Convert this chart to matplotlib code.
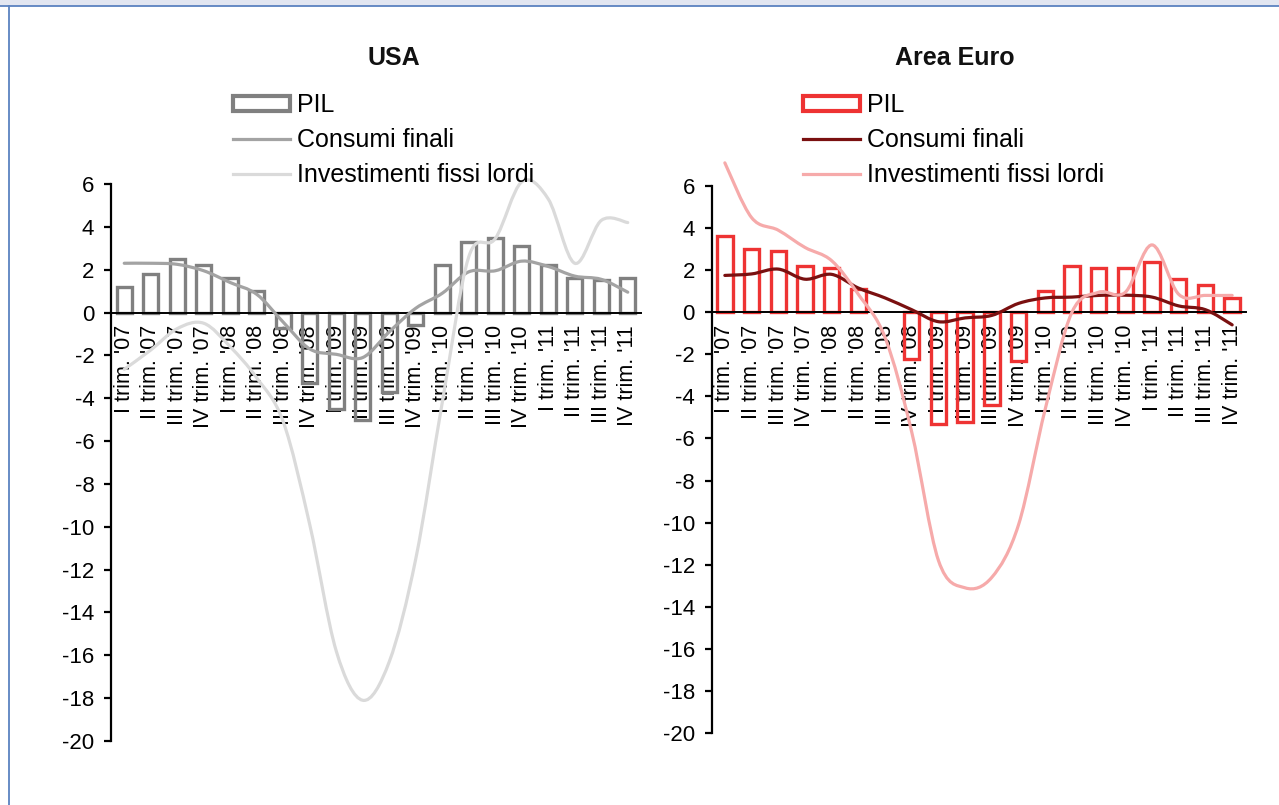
import matplotlib
matplotlib.use("Agg")
import matplotlib.pyplot as plt
import numpy as np
from matplotlib.path import Path
from matplotlib.patches import PathPatch, Rectangle, Patch
from matplotlib.lines import Line2D

plt.rcParams["font.family"] = ["Liberation Sans", "DejaVu Sans"]
plt.rcParams["axes.unicode_minus"] = False

# Quarterly labels, 2007-2011
categories = ["I trim. '07", "II trim. '07", "III trim. '07", "IV trim. '07",
              "I trim. '08", "II trim. '08", "III trim. '08", "IV trim. '08",
              "I trim. '09", "II trim. '09", "III trim. '09", "IV trim. '09",
              "I trim. '10", "II trim. '10", "III trim. '10", "IV trim. '10",
              "I trim. '11", "II trim. '11", "III trim. '11", "IV trim. '11"]

# USA (var. % tendenziali)
usa_pil = [1.2, 1.8, 2.5, 2.2, 1.6, 1.0, -0.7, -3.3, -4.5, -5.0,
           -3.7, -0.6, 2.2, 3.3, 3.5, 3.1, 2.2, 1.6, 1.5, 1.6]
usa_cons = [2.3, 2.3, 2.25, 1.95, 1.4, 0.85, -0.45, -1.7, -1.95, -2.1,
            -0.9, 0.2, 0.9, 1.9, 1.95, 2.4, 2.15, 1.7, 1.55, 0.95]
usa_inv = [-2.65, -1.75, -0.75, -0.5, -1.6, -3.05, -5.1, -9.9, -15.8, -18.1,
           -16.3, -11.5, -4.2, 2.6, 3.45, 6.1, 5.3, 2.3, 4.3, 4.2]

# Area Euro
euro_pil = [3.6, 3.0, 2.9, 2.2, 2.1, 1.1, 0.0, -2.2, -5.3, -5.2,
            -4.4, -2.3, 1.0, 2.2, 2.1, 2.1, 2.4, 1.6, 1.3, 0.7]
euro_cons = [1.75, 1.82, 2.05, 1.57, 1.8, 1.15, 0.68, 0.12, -0.45, -0.27,
             -0.15, 0.42, 0.68, 0.72, 0.8, 0.81, 0.72, 0.3, 0.12, -0.6]
euro_inv = [7.1, 4.5, 3.9, 3.08, 2.45, 0.85, -1.2, -5.7, -11.8, -13.1,
            -12.6, -10.1, -4.6, 0.0, 0.95, 0.95, 3.2, 0.85, 0.8, 0.8]

y_ticks = list(range(-20, 7, 2))
legend_labels = ["PIL", "Consumi finali", "Investimenti fissi lordi"]

W, H = 1279, 805
fig = plt.figure(figsize=(W / 100, H / 100), dpi=100)


def smooth_path(xs, ys):
    """Smoothed line through the points (Catmull-Rom as cubic Bezier)."""
    pts = np.column_stack([xs, ys]).astype(float)
    n = len(pts)
    verts = [tuple(pts[0])]
    codes = [Path.MOVETO]
    for i in range(n - 1):
        p0 = pts[i - 1] if i > 0 else pts[i]
        p1 = pts[i]
        p2 = pts[i + 1]
        p3 = pts[i + 2] if i + 2 < n else pts[i + 1]
        c1 = p1 + (p2 - p0) / 6.0
        c2 = p2 - (p3 - p1) / 6.0
        verts += [tuple(c1), tuple(c2), tuple(p2)]
        codes += [Path.CURVE4] * 3
    return Path(verts, codes)


def panel(rect, pil, cons, inv, bar_col, cons_col, inv_col, title, title_x,
          leg_x):
    ax = fig.add_axes(rect)
    for s in ("top", "right"):
        ax.spines[s].set_visible(False)
    ax.spines["bottom"].set_position(("data", 0))
    ax.spines["bottom"].set_linewidth(1.4)
    ax.spines["left"].set_linewidth(1.6)

    x = np.arange(len(categories))
    lw = [0 if v == 0 else 2.4 for v in pil]
    ax.bar(x, pil, width=0.58, facecolor="none", edgecolor=bar_col,
           linewidth=lw, zorder=2)
    ax.add_patch(PathPatch(smooth_path(x, cons), fill=False, edgecolor=cons_col,
                           linewidth=2.3, capstyle="round", zorder=3,
                           clip_on=False))
    ax.add_patch(PathPatch(smooth_path(x, inv), fill=False, edgecolor=inv_col,
                           linewidth=2.3, capstyle="round", zorder=3,
                           clip_on=False))
    ax.set_xlim(-0.5, len(categories) - 0.5)
    ax.set_ylim(-20, 6)
    ax.set_yticks(y_ticks)
    ax.set_yticklabels([str(t) for t in y_ticks])
    ax.set_xticks(x)
    ax.set_xticklabels(categories, rotation=90, va="top", ha="center")
    ax.tick_params(axis="x", length=0, pad=9, labelsize=15.5)
    ax.tick_params(axis="y", length=5, width=1.6, pad=7, labelsize=16,
                   direction="out")
    ax.patch.set_alpha(0)

    fig.text(title_x / W, 1 - 58 / H, title, ha="center", va="center",
             fontsize=18, fontweight="bold", color="#111111")

    handles = [Patch(facecolor="white", edgecolor=bar_col, linewidth=3),
               Line2D([], [], color=cons_col, linewidth=2.3),
               Line2D([], [], color=inv_col, linewidth=2.3)]
    fig.legend(handles, legend_labels, loc="upper left",
               bbox_to_anchor=(leg_x / W, 1 - 93 / H), frameon=False,
               fontsize=18, borderpad=0, handlelength=2.28, handleheight=0.56,
               handletextpad=0.28, labelspacing=0.44, borderaxespad=0)
    return ax


panel([111 / W, 1 - 741 / H, 530 / W, 557 / H], usa_pil, usa_cons, usa_inv,
      "#808080", "#a3a3a3", "#dadada", "USA", 394, 233)
panel([711.5 / W, 1 - 733 / H, 534 / W, 547 / H], euro_pil, euro_cons, euro_inv,
      "#ee3333", "#7a1010", "#f6aaaa", "Area Euro", 955, 803)

# page frame
fig.patches.append(Rectangle((0, 1 - 6 / H), 1, 6 / H, transform=fig.transFigure,
                             facecolor="#e2e6f1", edgecolor="none"))
fig.lines.append(Line2D([0, 1], [1 - 6.5 / H] * 2, transform=fig.transFigure,
                        color="#5b82c0", linewidth=1.3))
fig.lines.append(Line2D([8.5 / W] * 2, [0, 1 - 6.5 / H], transform=fig.transFigure,
                        color="#5b82c0", linewidth=1.3))

fig.savefig("out.png", dpi=100)
